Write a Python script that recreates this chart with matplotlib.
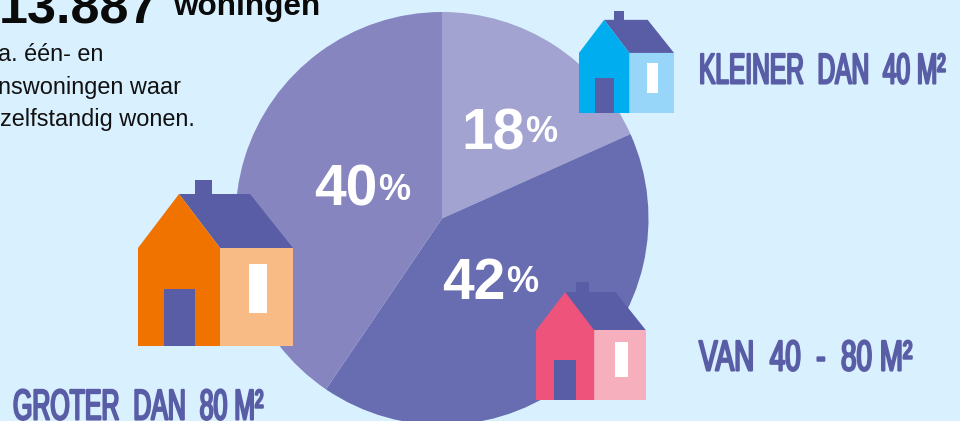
import matplotlib
matplotlib.use("Agg")
import matplotlib.pyplot as plt
from matplotlib.patches import Polygon, Rectangle
from matplotlib.patheffects import AbstractPathEffect
from matplotlib.transforms import Affine2D

# =============================================================================
# DATA
# =============================================================================
# double spaces keep the wide word gaps of the poster font
CATEGORIES = ["KLEINER  DAN  40 M²", "VAN  40  -  80 M²", "GROTER  DAN  80 M²"]
PCT_LABELS = ["18", "42", "40"]
# slice sizes as measured on the drawn pie, the printed labels are rounded
SHARES = [18.3, 41.2, 40.5]
TOTAL = "13.887"
TOTAL_UNIT = "woningen"
BODY_LINES = ["a. één- en", "nswoningen waar", "zelfstandig wonen."]

# =============================================================================
# STYLE
# =============================================================================
W, H = 960, 421
BG = "#D9F0FE"
ROOF = "#585DA6"
SLICE_COLORS = ["#A3A3D1", "#676DB0", "#8785BF"]
HOUSE_COLORS = [("#00AEEF", "#98D6F9"), ("#ED537B", "#F6AFBD"), ("#F07300", "#F9BB85")]

plt.rcParams["font.family"] = ["Liberation Sans", "DejaVu Sans"]


def py(y):
    """Pixel row measured from the top -> data y."""
    return H - y


class Squeeze(AbstractPathEffect):
    """Narrows a text horizontally (there is no condensed poster font here)."""

    def __init__(self, x0, sx, lw=0.0):
        super().__init__()
        self.x0, self.sx, self.lw = x0, sx, lw

    def draw_path(self, renderer, gc, tpath, affine, rgbFace=None):
        tr = affine + Affine2D().translate(-self.x0, 0).scale(self.sx, 1).translate(self.x0, 0)
        gc0 = renderer.new_gc()
        gc0.copy_properties(gc)
        gc0.set_linewidth(self.lw)
        gc0.set_foreground(rgbFace)
        gc0.set_joinstyle("round")
        renderer.draw_path(gc0, tpath, tr, rgbFace)
        gc0.restore()


def condensed(ax, txt, x0, x1, base, size, anchor="left"):
    # anchored on one end, the text is squeezed towards that end
    xa = x0 if anchor == "left" else x1
    t = ax.text(xa, py(base), txt, fontsize=size, color=ROOF,
                ha=anchor, va="baseline", zorder=6)
    w = t.get_window_extent(fig.canvas.get_renderer()).width
    t.set_path_effects([Squeeze(xa, (x1 - x0 - 2) / w, lw=1.5)])


def house(ax, x0, bottom, s, main, light):
    """Reference house is 155 px wide and 166 px high, s scales it."""
    def P(dx, dy):
        return (x0 + dx * s, py(bottom - dy * s))

    def box(dx0, dy0, dx1, dy1, color, z):
        (a, b), (c, d) = P(dx0, dy0), P(dx1, dy1)
        ax.add_patch(Rectangle((a, b), c - a, d - b, fc=color, lw=0, zorder=z))

    box(57, 152, 74, 166, ROOF, 3)                    # chimney
    ax.add_patch(Polygon([P(41, 152), P(112, 152), P(155, 98), P(82, 98)],
                         fc=ROOF, lw=0, zorder=3))    # roof
    box(82, 0, 155, 98, light, 3)                     # side wall
    ax.add_patch(Polygon([P(0, 0), P(0, 98), P(41, 152), P(82, 98), P(82, 0)],
                         fc=main, lw=0, zorder=4))    # front wall
    box(26, 0, 57, 57, ROOF, 5)                       # door
    box(111, 33, 129, 82, "white", 5)                 # window


# =============================================================================
# PLOT
# =============================================================================
fig = plt.figure(figsize=(W / 100, H / 100), dpi=100, facecolor=BG)
ax = fig.add_axes([0, 0, 1, 1])

ax.pie(SHARES, colors=SLICE_COLORS, startangle=90, counterclock=False,
       center=(442, py(218.5)), radius=206.5, frame=True,
       wedgeprops=dict(linewidth=0))
ax.set_xlim(0, W)
ax.set_ylim(0, H)
ax.axis("off")

# percentages
pct_pos = [(461, 149), (442, 299), (314, 206)]
for label, (x, y) in zip(PCT_LABELS, pct_pos):
    ax.text(x, py(y), label, fontsize=41, fontweight="bold", color="white",
            ha="left", va="baseline", zorder=2)
    ax.text(x + 64, py(y - 6.5), "%", fontsize=26, fontweight="bold", color="white",
            ha="left", va="baseline", zorder=2)

# houses
house(ax, 579, 113, 0.613, *HOUSE_COLORS[0])
house(ax, 536, 400, 0.71, *HOUSE_COLORS[1])
house(ax, 138, 346, 1.0, *HOUSE_COLORS[2])

# category labels
condensed(ax, CATEGORIES[0], 697, 945, 83.5, 31, anchor="right")
condensed(ax, CATEGORIES[1], 697, 912, 370.5, 31, anchor="right")
condensed(ax, CATEGORIES[2], 13, 265, 419.5, 31)

# header, cut off by the image edge like in the reference
ax.text(158, py(24), TOTAL, fontsize=37.5, fontweight="bold", color="#0A0A0A",
        ha="right", va="baseline")
ax.text(173, py(15), TOTAL_UNIT, fontsize=22.7, fontweight="bold", color="#0A0A0A",
        ha="left", va="baseline")
for line, right, base in zip(BODY_LINES, [103, 181, 195], [61, 94, 126]):
    ax.text(right, py(base), line, fontsize=16.9, color="#111111",
            ha="right", va="baseline")

fig.savefig("out.png", dpi=100, facecolor=BG)
